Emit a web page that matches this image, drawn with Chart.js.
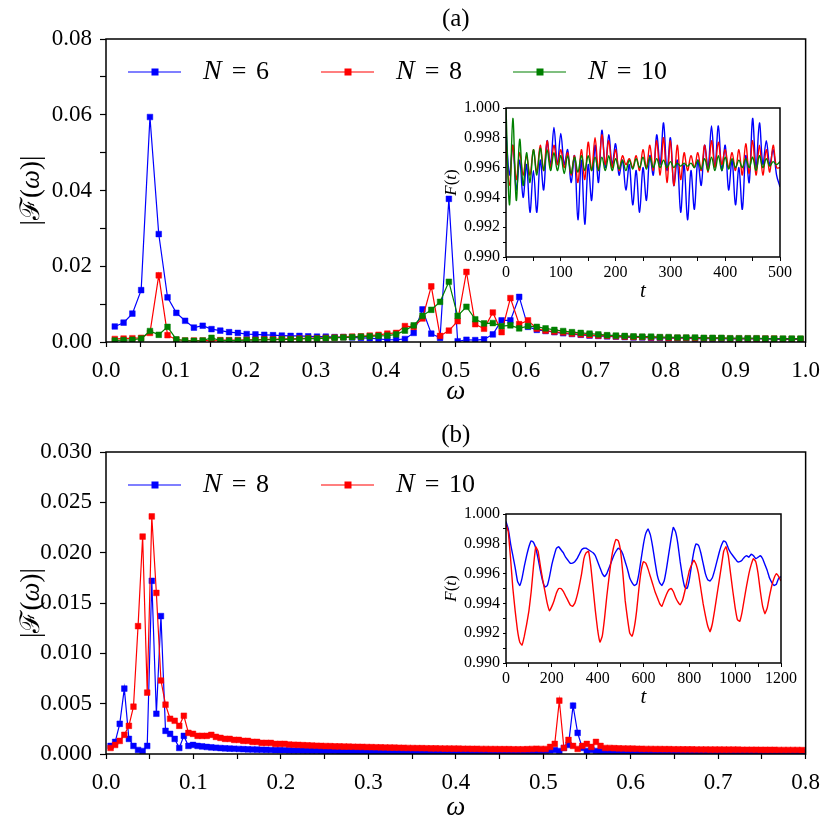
<!DOCTYPE html>
<html>
<head>
<meta charset="utf-8">
<script src="https://cdn.jsdelivr.net/npm/chart.js@4.4.0/dist/chart.umd.min.js"></script>
<style>
  body { margin: 0; background: #fff; }
  #wrap { position: relative; width: 830px; height: 830px; overflow: hidden; background: #fff; }
  canvas { position: absolute; }
</style>
</head>
<body>
<div id="wrap">
  <canvas id="mainA" width="830" height="415" style="left:0;top:0"></canvas>
  <canvas id="mainB" width="830" height="415" style="left:0;top:415px"></canvas>
  <canvas id="insetA" width="370" height="210" style="left:430px;top:95px"></canvas>
  <canvas id="insetB" width="370" height="215" style="left:430px;top:500px"></canvas>
</div>
<script>
const dwA = 0.012566;
const dwB = 0.005236;
const dtA = 6.25;
const dtB = 10;

// panel (a): |F(w)| for N = 6, 8, 10
const specA_N6 = [
  .0041,.0051,.0075,.0137,.0594,.0285,.0118,.0077,.0056,.0038,
  .0043,.0034,.0030,.0026,.0024,.0021,.0020,.0019,.0018,.0017,
  .0016,.0016,.0015,.0014,.0014,.0013,.0013,.0012,.0011,.0010,
  .0008,.0006,.0006,.0008,.0024,.0086,.0022,.0011,.0378,.0002,
  .0006,.0005,.0007,.0020,.0057,.0057,.0119,.0040,.0032,.0029,
  .0026,.0023,.0021,.0019,.0017,.0016,.0015,.0014,.0013,.0012,
  .0012,.0011,.0011,.0010,.0010,.0010,.0009,.0009,.0009,.0009,
  .0008,.0008,.0008,.0008,.0008,.0007,.0007,.0007,.0007
];
const specA_N8 = [
  .0008,.0009,.0010,.0011,.0024,.0176,.0018,.0006,.0004,.0004,
  .0004,.0004,.0005,.0005,.0005,.0006,.0006,.0007,.0007,.0008,
  .0008,.0009,.0010,.0010,.0011,.0012,.0013,.0014,.0015,.0017,
  .0019,.0022,.0024,.0042,.0040,.0062,.0147,.0016,.0030,.0055,
  .0185,.0047,.0035,.0078,.0026,.0116,.0047,.0057,.0035,.0030,
  .0027,.0025,.0022,.0020,.0018,.0017,.0016,.0015,.0014,.0013,
  .0013,.0012,.0012,.0011,.0011,.0011,.0010,.0010,.0010,.0010,
  .0009,.0009,.0009,.0009,.0009,.0009,.0008,.0008,.0008
];
const specA_N10 = [
  .0004,.0005,.0006,.0009,.0029,.0019,.0040,.0007,.0004,.0003,
  .0004,.0011,.0004,.0004,.0004,.0005,.0005,.0006,.0006,.0007,
  .0007,.0008,.0009,.0009,.0010,.0011,.0012,.0013,.0014,.0015,
  .0016,.0017,.0020,.0030,.0044,.0069,.0085,.0106,.0159,.0069,
  .0093,.0060,.0049,.0050,.0042,.0044,.0036,.0042,.0040,.0036,
  .0032,.0029,.0026,.0024,.0022,.0020,.0018,.0017,.0016,.0015,
  .0014,.0014,.0013,.0013,.0012,.0012,.0012,.0011,.0011,.0011,
  .0010,.0010,.0010,.0010,.0009,.0009,.0009,.0009,.0009
];

// panel (b): |F(w)| for N = 8, 10
const specB_N8 = [
  .0008,.0012,.0030,.0065,.0015,.0008,.0004,.0003,.0008,.0172,.0040,.0137,.0023,.0020,.0015,.0006,.0018,.0008,.0009,.0008,
  .00075,.00070,.00066,.00062,.00059,.00056,.00054,.00052,.00050,.00048,.00046,.00045,.00044,.00042,.00041,.00040,.00039,.00038,.00037,.00036,
  .00035,.00035,.00034,.00033,.00033,.00032,.00031,.00031,.00030,.00030,.00029,.00029,.00028,.00028,.00027,.00027,.00027,.00026,.00026,.00026,
  .00025,.00025,.00025,.00024,.00024,.00024,.00023,.00023,.00023,.00023,.00022,.00022,.00022,.00022,.00021,.00021,.00021,.00021,.00020,.00020,
  .00020,.00020,.00019,.00019,.00019,.00019,.00019,.00018,.00018,.00019,.00020,.00021,.00023,.00025,.00028,.00032,.00036,.0004,.0003,.0006,
  .0009,.0048,.0021,.0006,.0003,.0004,.0003,.00028,.00027,.00026,.00025,.00025,.00024,.00024,.00023,.00023,.00023,.00022,.00022,.00022,
  .00021,.00021,.00021,.00021,.00020,.00020,.00020,.00020,.00020,.00019,.00019,.00019,.00019,.00019,.00018,.00018,.00018,.00018,.00018,.00018,
  .00017,.00017,.00017,.00017,.00017,.00017,.00017,.00016,.00016,.00016,.00016,.00016
];
const specB_N10 = [
  .0006,.0009,.0013,.0019,.0028,.0047,.0127,.0216,.0061,.0236,.0160,.0073,.0049,.0035,.0033,.0028,.0038,.0021,.0020,.0018,
  .0018,.0018,.0019,.0017,.0016,.0015,.0015,.0014,.0014,.0013,.0013,.0012,.0012,.0011,.0011,.0011,.0010,.0010,.0010,.00094,
  .00092,.00090,.00088,.00086,.00084,.00082,.00080,.00079,.00078,.00076,.00075,.00074,.00073,.00072,.00071,.00070,.00069,.00068,.00067,.00066,
  .00065,.00064,.00063,.00062,.00061,.00060,.00059,.00058,.00058,.00057,.00056,.00056,.00055,.00054,.00054,.00053,.00053,.00052,.00052,.00051,
  .00051,.00050,.00050,.00049,.00049,.00048,.00048,.00048,.00047,.00047,.00047,.00048,.00050,.00052,.0005,.0005,.0007,.0010,.0053,.0006,
  .0014,.0008,.0005,.0008,.0010,.0007,.0012,.0008,.0006,.00060,.00058,.00056,.00055,.00054,.00053,.00052,.00051,.00050,.00050,.00049,
  .00049,.00048,.00048,.00047,.00047,.00046,.00046,.00046,.00045,.00045,.00045,.00044,.00044,.00044,.00043,.00043,.00043,.00043,.00042,.00042,
  .00042,.00042,.00041,.00041,.00041,.00041,.00040,.00040,.00040,.00040,.00040,.00039
];

// inset (a): F(t), t = 0..500
const fidA_N6 = [
  .9985,.9955,.9975,.9945,.9965,.9940,.9962,.9930,.9958,.9930,
  .9965,.9945,.9978,.9962,.9987,.9962,.9983,.9962,.9972,.9950,
  .9968,.9925,.9965,.9922,.9962,.9938,.9975,.9950,.9985,.9960,
  .9982,.9962,.9976,.9955,.9965,.9945,.9962,.9935,.9958,.9930,
  .9960,.9938,.9968,.9955,.9982,.9962,.9990,.9958,.9980,.9948,
  .9965,.9930,.9962,.9925,.9958,.9932,.9965,.9948,.9975,.9960,
  .9988,.9960,.9988,.9958,.9975,.9945,.9965,.9935,.9960,.9932,
  .9968,.9950,.9993,.9960,.9990,.9962,.9978,.9962,.9972,.9955,
  .9947
];
const fidA_N8 = [
  .9975,.9948,.9975,.9952,.9970,.9955,.9968,.9955,.9972,.9957,
  .9975,.9958,.9978,.9960,.9975,.9962,.9972,.9960,.9970,.9955,
  .9968,.9950,.9972,.9952,.9977,.9958,.9980,.9958,.9982,.9962,
  .9978,.9960,.9972,.9958,.9968,.9962,.9966,.9960,.9968,.9958,
  .9972,.9960,.9975,.9958,.9978,.9955,.9980,.9950,.9978,.9948,
  .9975,.9952,.9970,.9958,.9968,.9960,.9970,.9958,.9975,.9957,
  .9978,.9960,.9977,.9962,.9972,.9960,.9970,.9958,.9972,.9955,
  .9976,.9956,.9978,.9955,.9975,.9955,.9972,.9957,.9975,.9960,
  .9960
];
const fidA_N10 = [
  1.0000,.9935,.9993,.9938,.9979,.9948,.9970,.9950,.9972,.9955,
  .9973,.9958,.9972,.9958,.9970,.9958,.9968,.9956,.9968,.9956,
  .9967,.9957,.9968,.9958,.9968,.9958,.9967,.9958,.9967,.9958,
  .9968,.9958,.9966,.9959,.9965,.9958,.9965,.9959,.9966,.9960,
  .9967,.9959,.9967,.9960,.9966,.9960,.9965,.9960,.9964,.9960,
  .9963,.9961,.9963,.9961,.9963,.9960,.9965,.9959,.9966,.9958,
  .9967,.9958,.9968,.9958,.9967,.9959,.9966,.9960,.9965,.9960,
  .9966,.9960,.9967,.9958,.9968,.9960,.9966,.9961,.9964,.9962,
  .9964
];

// inset (b): F(t), t = 0..1200
const fidB_N8 = [
  .9995,.9990,.9980,.9972,.9964,.9955,.9952,.9957,.9965,.9972,
  .9978,.9982,.9981,.9977,.9970,.9962,.9955,.9951,.9952,.9958,
  .9966,.9972,.9977,.9978,.9976,.9974,.9971,.9969,.9967,.9967,
  .9968,.9970,.9973,.9976,.9977,.9977,.9976,.9975,.9974,.9972,
  .9968,.9964,.9960,.9958,.9960,.9964,.9968,.9972,.9975,.9977,
  .9976,.9973,.9968,.9963,.9957,.9954,.9952,.9953,.9960,.9970,
  .9980,.9987,.9990,.9986,.9978,.9968,.9959,.9954,.9952,.9955,
  .9963,.9973,.9983,.9991,.9988,.9980,.9968,.9958,.9951,.9950,
  .9956,.9966,.9975,.9980,.9979,.9974,.9967,.9960,.9956,.9955,
  .9957,.9962,.9968,.9974,.9979,.9982,.9981,.9977,.9974,.9972,
  .9970,.9968,.9968,.9969,.9971,.9972,.9971,.9973,.9972,.9970,
  .9971,.9972,.9970,.9966,.9962,.9957,.9954,.9952,.9953,.9957,
  .9958
];
const fidB_N10 = [
  .9993,.9988,.9970,.9950,.9935,.9922,.9914,.9912,.9918,.9926,
  .9935,.9948,.9965,.9978,.9975,.9965,.9956,.9948,.9940,.9935,
  .9938,.9942,.9947,.9950,.9950,.9948,.9945,.9942,.9939,.9938,
  .9940,.9945,.9952,.9960,.9970,.9974,.9975,.9965,.9950,.9935,
  .9922,.9914,.9918,.9930,.9945,.9958,.9970,.9978,.9983,.9982,
  .9975,.9960,.9942,.9930,.9920,.9918,.9924,.9935,.9950,.9962,
  .9968,.9967,.9963,.9958,.9953,.9948,.9944,.9940,.9938,.9942,
  .9946,.9949,.9950,.9948,.9944,.9941,.9939,.9942,.9948,.9955,
  .9962,.9966,.9969,.9966,.9960,.9950,.9940,.9932,.9925,.9921,
  .9926,.9935,.9945,.9955,.9965,.9975,.9978,.9972,.9960,.9948,
  .9937,.9929,.9928,.9934,.9943,.9952,.9960,.9966,.9970,.9968,
  .9960,.9948,.9938,.9933,.9937,.9945,.9952,.9957,.9960,.9958,
  .9955
];

const SERIF = '"Liberation Serif", "DejaVu Serif", serif';
const BLUE = '#0000ff', RED = '#ff0000', GREEN = '#008000';

function pts(vals, step, first) {
  return vals.map((v, i) => ({ x: (i + first) * step, y: v }));
}

// draw a run of text pieces, some italic, starting at x
function runText(ctx, parts, x, y, size, align) {
  ctx.textBaseline = 'middle';
  ctx.textAlign = 'left';
  let total = 0;
  parts.forEach(p => {
    ctx.font = (p.it ? 'italic ' : '') + size + 'px ' + SERIF;
    total += ctx.measureText(p.t).width;
  });
  let cx = align === 'center' ? x - total / 2 : x;
  parts.forEach(p => {
    ctx.font = (p.it ? 'italic ' : '') + size + 'px ' + SERIF;
    ctx.fillText(p.t, cx, y);
    cx += ctx.measureText(p.t).width;
  });
}

function frame(ctx, a) {
  ctx.save();
  ctx.strokeStyle = '#000';
  ctx.lineWidth = 1.5;
  ctx.strokeRect(a.left, a.top, a.right - a.left, a.bottom - a.top);
  ctx.restore();
}

function legendItem(ctx, x0, y, color, num) {
  ctx.save();
  ctx.strokeStyle = color;
  ctx.fillStyle = color;
  ctx.lineWidth = 1.2;
  ctx.beginPath();
  ctx.moveTo(x0, y);
  ctx.lineTo(x0 + 53, y);
  ctx.stroke();
  ctx.fillRect(x0 + 23.5, y - 3.5, 7, 7);
  ctx.fillStyle = '#000';
  runText(ctx, [{ t: 'N', it: true }], x0 + 75, y, 28);
  ctx.font = '26px ' + SERIF;
  ctx.textAlign = 'center';
  ctx.fillText('=', x0 + 111, y);
  ctx.textAlign = 'left';
  ctx.fillText(num, x0 + 128, y);
  ctx.restore();
}

function yLabelMain(ctx, a) {
  ctx.save();
  ctx.fillStyle = '#000';
  ctx.translate(32, (a.top + a.bottom) / 2);
  ctx.rotate(-Math.PI / 2);
  runText(ctx, [{ t: '|\u2131(' }, { t: '\u03c9', it: true }, { t: ')|' }], 0, 0, 27, 'center');
  ctx.restore();
}

function spectrumOpts(xmax, ymax, ystep, ylabelEvery, ydigits, topPad, xHeight) {
  return {
    responsive: false,
    animation: false,
    layout: { padding: { left: 0, top: topPad, right: 24, bottom: 0 } },
    plugins: { legend: { display: false }, tooltip: { enabled: false } },
    scales: {
      x: {
        type: 'linear', min: 0, max: xmax,
        border: { display: false },
        grid: { drawOnChartArea: false, tickLength: 5, tickColor: '#000', tickWidth: 1.2 },
        ticks: {
          stepSize: 0.05, autoSkip: false, maxRotation: 0, padding: 10, color: '#000',
          font: { family: SERIF, size: 23 },
          callback: v => Math.abs(v * 10 - Math.round(v * 10)) < 1e-6 ? (Math.round(v * 10) / 10).toFixed(1) : ''
        },
        afterFit: s => { s.height = xHeight; }
      },
      y: {
        type: 'linear', min: 0, max: ymax,
        border: { display: false },
        grid: { drawOnChartArea: false, tickLength: 6, tickColor: '#000', tickWidth: 1.2 },
        ticks: {
          stepSize: ystep, autoSkip: false, padding: 8, color: '#000',
          font: { family: SERIF, size: 23 },
          callback: v => {
            const n = Math.round(v / ystep);
            return n % ylabelEvery === 0 ? (n * ystep).toFixed(ydigits) : '';
          }
        },
        afterFit: s => { s.width = 106; }
      }
    }
  };
}

function specSet(vals, step, color, order) {
  return {
    data: pts(vals, step, 1),
    borderColor: color, backgroundColor: color,
    pointBackgroundColor: color, pointBorderColor: color,
    pointStyle: 'rect', pointRadius: 4, pointBorderWidth: 0.5,
    borderWidth: 1.2, tension: 0, order: order
  };
}

function insetOpts(xmax, xstep, xlabelEvery, padTop, padRight, xHeight) {
  return {
    responsive: false,
    animation: false,
    layout: { padding: { left: 0, top: padTop, right: padRight, bottom: 0 } },
    plugins: { legend: { display: false }, tooltip: { enabled: false } },
    scales: {
      x: {
        type: 'linear', min: 0, max: xmax,
        border: { display: false },
        grid: { drawOnChartArea: false, tickLength: 4, tickColor: '#000', tickWidth: 1 },
        ticks: {
          stepSize: xstep, autoSkip: false, maxRotation: 0, padding: 2, color: '#000',
          font: { family: SERIF, size: 16 },
          callback: v => Math.round(v / xstep) % xlabelEvery === 0 ? String(Math.round(v)) : ''
        },
        afterFit: s => { s.height = xHeight; }
      },
      y: {
        type: 'linear', min: 0.990, max: 1.000,
        border: { display: false },
        grid: { drawOnChartArea: false, tickLength: 3, tickColor: '#000', tickWidth: 1 },
        ticks: {
          stepSize: 0.001, autoSkip: false, padding: 3, color: '#000',
          font: { family: SERIF, size: 16 },
          callback: v => {
            const n = Math.round(v * 1000);
            return n % 2 === 0 ? (n / 1000).toFixed(3) : '';
          }
        },
        afterFit: s => { s.width = 76; }
      }
    }
  };
}

function insetSet(vals, step, color, order, tension) {
  return {
    data: pts(vals, step, 0),
    borderColor: color, backgroundColor: color,
    pointRadius: 0, borderWidth: 1.4, tension: tension, order: order
  };
}

const insetDecor = {
  id: 'insetDecor',
  beforeDraw(chart) {
    const { ctx, chartArea: a } = chart;
    ctx.save();
    ctx.fillStyle = '#fff';
    ctx.fillRect(a.left, a.top, a.right - a.left, a.bottom - a.top);
    ctx.restore();
  },
  afterDraw(chart) {
    const { ctx, chartArea: a } = chart;
    frame(ctx, a);
    ctx.save();
    ctx.fillStyle = '#000';
    runText(ctx, [{ t: 't', it: true }], (a.left + a.right) / 2 - 3, a.bottom + 34, 21);
    ctx.translate(22, (a.top + a.bottom) / 2);
    ctx.rotate(-Math.PI / 2);
    runText(ctx, [{ t: 'F', it: true }, { t: '(' }, { t: 't', it: true }, { t: ')' }], 0, 0, 17, 'center');
    ctx.restore();
  }
};

// ---- panel (a)
new Chart(document.getElementById('mainA'), {
  type: 'line',
  data: {
    datasets: [
      specSet(specA_N6, dwA, BLUE, 3),
      specSet(specA_N8, dwA, RED, 2),
      specSet(specA_N10, dwA, GREEN, 1)
    ]
  },
  options: spectrumOpts(1.0, 0.08, 0.01, 2, 2, 39, 73),
  plugins: [{
    id: 'decorA',
    afterDraw(chart) {
      const { ctx, chartArea: a } = chart;
      frame(ctx, a);
      ctx.save();
      ctx.fillStyle = '#000';
      runText(ctx, [{ t: '(a)' }], (a.left + a.right) / 2, 19, 25, 'center');
      runText(ctx, [{ t: '\u03c9', it: true }], (a.left + a.right) / 2, 392, 27, 'center');
      ctx.restore();
      yLabelMain(ctx, a);
      legendItem(ctx, 128, 72, BLUE, '6');
      legendItem(ctx, 321, 72, RED, '8');
      legendItem(ctx, 513, 72, GREEN, '10');
    }
  }]
});

// ---- panel (b)
new Chart(document.getElementById('mainB'), {
  type: 'line',
  data: {
    datasets: [
      specSet(specB_N8, dwB, BLUE, 2),
      specSet(specB_N10, dwB, RED, 1)
    ]
  },
  options: spectrumOpts(0.8, 0.03, 0.005, 1, 3, 37, 76),
  plugins: [{
    id: 'decorB',
    afterDraw(chart) {
      const { ctx, chartArea: a } = chart;
      frame(ctx, a);
      ctx.save();
      ctx.fillStyle = '#000';
      runText(ctx, [{ t: '(b)' }], (a.left + a.right) / 2, 20, 25, 'center');
      runText(ctx, [{ t: '\u03c9', it: true }], (a.left + a.right) / 2, 393, 27, 'center');
      ctx.restore();
      yLabelMain(ctx, a);
      legendItem(ctx, 128, 70, BLUE, '8');
      legendItem(ctx, 321, 70, RED, '10');
    }
  }]
});

// ---- inset (a)
new Chart(document.getElementById('insetA'), {
  type: 'line',
  data: {
    datasets: [
      insetSet(fidA_N6, dtA, BLUE, 3, 0.35),
      insetSet(fidA_N8, dtA, RED, 2, 0.35),
      insetSet(fidA_N10, dtA, GREEN, 1, 0.35)
    ]
  },
  options: insetOpts(500, 50, 2, 13, 20, 48),
  plugins: [insetDecor]
});

// ---- inset (b)
new Chart(document.getElementById('insetB'), {
  type: 'line',
  data: {
    datasets: [
      insetSet(fidB_N8, dtB, BLUE, 2, 0.1),
      insetSet(fidB_N10, dtB, RED, 1, 0.1)
    ]
  },
  options: insetOpts(1200, 100, 2, 14, 19, 52),
  plugins: [insetDecor]
});
</script>
</body>
</html>
